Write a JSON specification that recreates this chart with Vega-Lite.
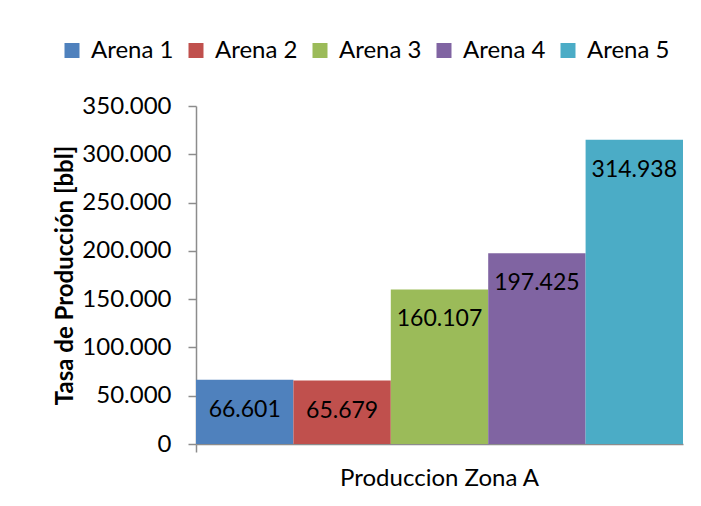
{
  "$schema": "https://vega.github.io/schema/vega-lite/v6.json",
  "width": 487,
  "height": 338,
  "autosize": {"type": "none"},
  "padding": {"left": 196, "top": 106, "right": 18, "bottom": 62},
  "background": "white",
  "config": {
    "view": {"stroke": null},
    "font": "Lato",
    "locale": {"number": {"decimal": ",", "thousands": ".", "grouping": [3], "currency": ["", " €"]}}
  },
  "data": {
    "values": [
      {"zona": "Produccion Zona A", "arena": "Arena 1", "valor": 66601},
      {"zona": "Produccion Zona A", "arena": "Arena 2", "valor": 65679},
      {"zona": "Produccion Zona A", "arena": "Arena 3", "valor": 160107},
      {"zona": "Produccion Zona A", "arena": "Arena 4", "valor": 197425},
      {"zona": "Produccion Zona A", "arena": "Arena 5", "valor": 314938}
    ]
  },
  "encoding": {
    "x": {
      "field": "zona", "type": "nominal",
      "scale": {"paddingInner": 0, "paddingOuter": 0},
      "axis": {
        "title": null, "labelAngle": 0, "labelFontSize": 24, "labelColor": "black",
        "labelPadding": 14, "labelLimit": 400, "domainColor": "#8c8c8c", "tickColor": "#8c8c8c",
        "tickSize": 8, "bandPosition": 0, "domainWidth": 1.5, "tickWidth": 1.5
      }
    },
    "xOffset": {"field": "arena", "type": "nominal", "scale": {"paddingInner": 0, "paddingOuter": 0}},
    "y": {
      "field": "valor", "type": "quantitative",
      "scale": {"domain": [0, 350000], "nice": false},
      "axis": {
        "title": "Tasa de Producción [bbl]", "titleFontSize": 24, "titleFontWeight": "bold",
        "titleColor": "black", "titlePadding": 4,
        "values": [0, 50000, 100000, 150000, 200000, 250000, 300000, 350000],
        "format": ",.0f", "labelFontSize": 24, "labelColor": "black", "labelPadding": 17,
        "grid": false, "domainColor": "#8c8c8c", "tickColor": "#8c8c8c", "tickSize": 8,
        "domainWidth": 1.5, "tickWidth": 1.5
      }
    }
  },
  "layer": [
    {
      "mark": {"type": "bar"},
      "encoding": {
        "color": {
          "field": "arena", "type": "nominal",
          "scale": {"range": ["#4F81BD", "#C0504D", "#9BBB59", "#8064A2", "#4BACC6"]},
          "legend": {
            "title": null, "orient": "none", "direction": "horizontal",
            "legendX": -136, "legendY": -67.5,
            "symbolType": "square", "symbolSize": 225, "symbolStrokeWidth": 0,
            "labelFontSize": 24, "labelColor": "black", "columnPadding": 10, "labelOffset": 7
          }
        }
      }
    },
    {
      "mark": {"type": "text", "baseline": "middle", "dy": 30, "fontSize": 23, "color": "black"},
      "encoding": {"text": {"field": "valor", "type": "quantitative", "format": ",.0f"}}
    }
  ]
}
